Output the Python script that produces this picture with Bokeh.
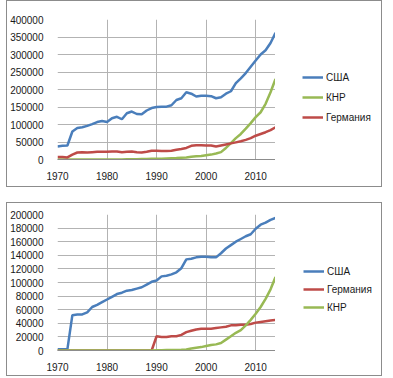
from bokeh.plotting import figure
from bokeh.layouts import column, row
from bokeh.models import FixedTicker, BasicTickFormatter, Legend, LegendItem, Spacer
from bokeh.embed import file_html
from bokeh.resources import INLINE

years = list(range(1970, 2015))

# Top chart
top_usa = [37000, 39000, 40000, 80000, 90000, 92000, 96000, 101000, 107000, 110000,
           107000, 118000, 122000, 115000, 132000, 137000, 130000, 129000, 140000, 147000,
           150000, 151000, 151000, 155000, 170000, 175000, 192000, 188000, 180000, 182000,
           182000, 181000, 175000, 178000, 188000, 195000, 218000, 232000, 247000, 265000,
           283000, 300000, 312000, 333000, 362000]
top_chn = [0, 0, 0, 0, 0, 0, 0, 0, 0, 0,
           0, 0, 0, 0, 500, 1000, 1000, 1500, 1500, 2000,
           2000, 2500, 3000, 3500, 4000, 5000, 6000, 8000, 9000, 10000,
           12000, 14000, 17000, 21000, 33000, 47000, 61000, 73000, 88000, 104000,
           121000, 135000, 159000, 192000, 230000]
top_deu = [7000, 7000, 6000, 14000, 20000, 21000, 20000, 21000, 22000, 22000,
           22000, 23000, 23000, 21000, 22000, 23000, 21000, 20000, 22000, 25000,
           25000, 24000, 24000, 25000, 28000, 30000, 33000, 39000, 41000, 41000,
           40000, 40000, 37000, 40000, 43000, 46000, 49000, 52000, 56000, 61000,
           68000, 73000, 78000, 84000, 92000]

# Bottom chart
bot_usa = [2000, 2000, 2000, 52000, 53000, 53000, 56000, 64000, 67000, 71000,
           75000, 79000, 83000, 85000, 88000, 89000, 91000, 93000, 97000, 101000,
           103000, 109000, 110000, 112000, 115000, 121000, 134000, 135000, 137000, 138000,
           138000, 137000, 137000, 143000, 150000, 155000, 160000, 164000, 168000, 171000,
           179000, 185000, 188000, 192000, 195000]
bot_deu = [0, 0, 0, 0, 0, 0, 0, 0, 0, 0,
           0, 0, 0, 0, 0, 0, 0, 0, 0, 0,
           21000, 20000, 20000, 21000, 21000, 23000, 27000, 29000, 31000, 32000,
           32000, 32000, 33000, 34000, 35000, 37000, 37000, 38000, 38000, 39000,
           41000, 42000, 43000, 44000, 45000]
bot_chn = [0, 0, 0, 0, 0, 0, 0, 0, 0, 0,
           0, 0, 0, 0, 0, 0, 0, 0, 0, 0,
           300, 500, 600, 700, 800, 1000, 1500, 3000, 4000, 5000,
           6500, 8000, 9000, 11000, 16000, 21000, 26000, 30000, 37000, 45000,
           54000, 64000, 76000, 90000, 108000]

x_ticks = [1970, 1980, 1990, 2000, 2010]
top_y_ticks = list(range(0, 400001, 50000))
bot_y_ticks = list(range(0, 200001, 20000))

BLUE = "#4A7EBB"
RED = "#BE4B48"
GREEN = "#98B954"
FONT = "Liberation Sans"
GRID = "#B3B3B3"
BORDER = {"border": "1px solid #8C8C8C"}


def make_chart(height, ymax, yticks, series, names, top_b, bot_b, leg_loc, leg_h):
    p = figure(width=268, height=height, x_range=(1970, 2014), y_range=(0, ymax),
               output_backend="svg", toolbar_location=None,
               min_border_left=49, min_border_right=0,
               min_border_top=top_b, min_border_bottom=bot_b)
    p.outline_line_color = None
    for ax in (p.xaxis, p.yaxis):
        ax.major_tick_line_color = None
        ax.minor_tick_line_color = None
        ax.major_label_text_font = FONT
        ax.major_label_text_font_size = "10px"
        ax.major_label_text_color = "#1a1a1a"
    p.xaxis.ticker = FixedTicker(ticks=x_ticks)
    p.yaxis.ticker = FixedTicker(ticks=yticks)
    p.yaxis.formatter = BasicTickFormatter(use_scientific=False)
    p.xaxis.axis_line_color = "#8C8C8C"
    p.yaxis.axis_line_color = None
    p.xaxis.major_label_standoff = 6
    p.yaxis.major_label_standoff = 8
    p.xgrid.ticker = FixedTicker(ticks=x_ticks)
    p.ygrid.ticker = FixedTicker(ticks=yticks)
    p.xgrid.grid_line_color = GRID
    p.ygrid.grid_line_color = GRID
    for vals, color in series:
        p.line(years, vals, line_color=color, line_width=2.5)

    # legend panel as a separate figure (same series, hidden renderers)
    lp = figure(width=106, height=height, x_range=(1970, 2014), y_range=(0, ymax),
                output_backend="svg", toolbar_location=None,
                x_axis_location=None, y_axis_location=None,
                min_border_left=0, min_border_right=0,
                min_border_top=top_b, min_border_bottom=bot_b)
    lp.outline_line_color = None
    lp.xgrid.visible = False
    lp.ygrid.visible = False
    items = []
    for (vals, color), name in zip(series, names):
        r = lp.line(years, vals, line_color=color, line_width=2.5, visible=False)
        items.append(LegendItem(label=name, renderers=[r]))
    leg = Legend(items=items, location=leg_loc, orientation="vertical",
                 label_text_font=FONT, label_text_font_size="10px",
                 label_text_color="#1a1a1a",
                 glyph_width=21, glyph_height=leg_h, label_height=leg_h,
                 spacing=0, padding=0, margin=0, label_standoff=3,
                 border_line_color=None, background_fill_alpha=0)
    lp.add_layout(leg)
    return row(p, lp, styles=BORDER)


r1 = make_chart(185, 400000, top_y_ticks,
                [(top_usa, BLUE), (top_chn, GREEN), (top_deu, RED)],
                ["США", "КНР", "Германия"], 18, 27, (27, 32), 20)
r2 = make_chart(172, 200000, bot_y_ticks,
                [(bot_usa, BLUE), (bot_deu, RED), (bot_chn, GREEN)],
                ["США", "Германия", "КНР"], 11, 25, (28, 34), 18)

layout = row(Spacer(width=6), column(r1, r2, spacing=15))
open("out.html", "w").write(file_html(layout, INLINE))
